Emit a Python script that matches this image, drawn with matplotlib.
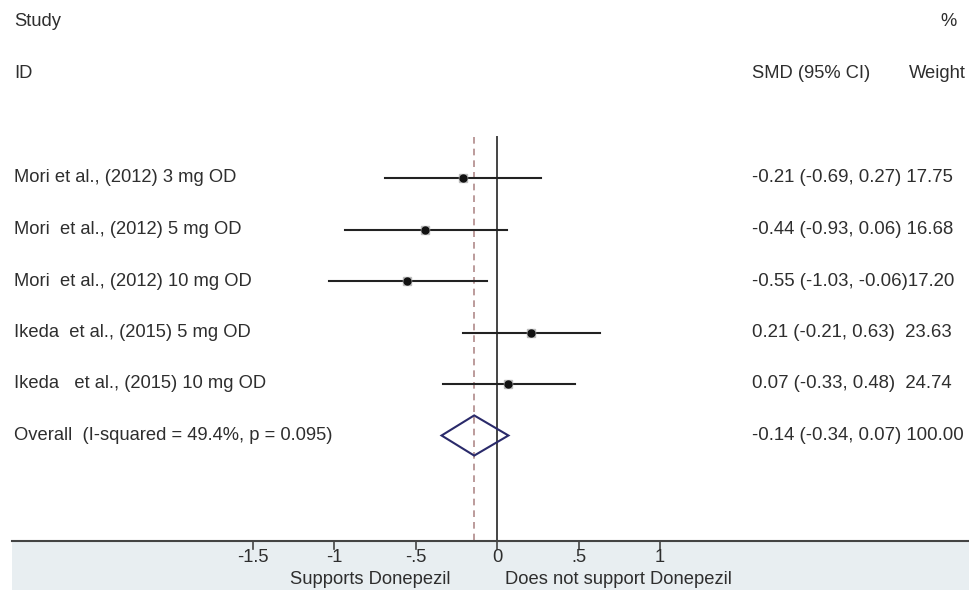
import matplotlib
matplotlib.use("Agg")
import matplotlib.pyplot as plt
from matplotlib.patches import Polygon, Rectangle

plt.rcParams['font.family'] = ['Liberation Sans', 'DejaVu Sans']

studies = ["Mori et al., (2012) 3 mg OD", "Mori  et al., (2012) 5 mg OD",
           "Mori  et al., (2012) 10 mg OD", "Ikeda  et al., (2015) 5 mg OD",
           "Ikeda   et al., (2015) 10 mg OD"]
smd = [-0.21, -0.44, -0.55, 0.21, 0.07]
lo = [-0.69, -0.93, -1.03, -0.21, -0.33]
hi = [0.27, 0.06, -0.06, 0.63, 0.48]
weights = [17.75, 16.68, 17.20, 23.63, 24.74]
ci_text = ["-0.21 (-0.69, 0.27)", "-0.44 (-0.93, 0.06)", "-0.55 (-1.03, -0.06)",
           "0.21 (-0.21, 0.63)", "0.07 (-0.33, 0.48)"]
overall_label = "Overall  (I-squared = 49.4%, p = 0.095)"
overall = -0.14
overall_lo = -0.34
overall_hi = 0.07
overall_ci_text = "-0.14 (-0.34, 0.07)"
overall_weight = 100.00
tick_vals = [-1.5, -1, -0.5, 0, 0.5, 1]
tick_labels = ["-1.5", "-1", "-.5", "0", ".5", "1"]

W, H = 969, 590
fig = plt.figure(figsize=(W / 100, H / 100), dpi=100)
ax = fig.add_axes([0, 0, 1, 1])
x0px, unit = 497, 163.0
row0, rowh = 178, 51.5
ax.set_xlim(-x0px / unit, (W - x0px) / unit)
ax.set_ylim((H - row0) / rowh, -row0 / rowh)
ax.axis('off')

def px_x(p):
    return (p - x0px) / unit

def px_y(p):
    return (p - row0) / rowh

tc = '#2e2e2e'
fs = 13.2
fs_r = 13.4
axis_row = px_y(541)
top_row = px_y(137)

# bottom panel
ax.add_patch(Rectangle((px_x(12), axis_row), px_x(969) - px_x(12), px_y(590) - axis_row,
                       facecolor='#e8eef1', edgecolor='none', zorder=0))
ax.plot([px_x(12), px_x(969)], [axis_row, axis_row], color='#444444', lw=1.5, zorder=3)
for v, lab in zip(tick_vals, tick_labels):
    ax.plot([v, v], [axis_row, px_y(549)], color='#444444', lw=1.2, zorder=3)
    ax.text(v, px_y(558), lab, ha='center', va='center', fontsize=fs, color=tc)
ax.text(px_x(370), px_y(580), "Supports Donepezil", ha='center', va='center', fontsize=fs, color=tc)
ax.text(px_x(618), px_y(580), "Does not support Donepezil", ha='center', va='center', fontsize=fs, color=tc)

# reference lines
ax.plot([0, 0], [top_row, axis_row], color='#444444', lw=1.4, zorder=2)
ax.plot([overall, overall], [top_row, axis_row], color='#b08a8a', lw=1.2,
        linestyle=(0, (4, 3)), zorder=2)

# headers
ax.text(px_x(14), px_y(22), "Study", ha='left', va='center', fontsize=fs, color=tc)
ax.text(px_x(14), px_y(73), "ID", ha='left', va='center', fontsize=fs, color=tc)
ax.text(px_x(940), px_y(22), "%", ha='left', va='center', fontsize=fs, color=tc)
ax.text(px_x(752), px_y(73), "SMD (95% CI)", ha='left', va='center', fontsize=fs, color=tc)
ax.text(px_x(966), px_y(73), "Weight", ha='right', va='center', fontsize=fs, color=tc)


def right_text(ci, w):
    return ci.ljust(20) + f"{w:.2f}"


for i, (name, m, l, h, w, ct) in enumerate(zip(studies, smd, lo, hi, weights, ci_text)):
    ax.plot([l, h], [i, i], color='#222222', lw=1.5, zorder=4)
    ax.plot([m], [i], marker='s', color='#bbbbbb', markersize=6, zorder=4)
    ax.plot([m], [i], marker='o', color='#111111', markersize=5, zorder=5)
    ax.text(px_x(14), i, name, ha='left', va='center', fontsize=fs, color=tc)
    ax.text(px_x(752), i, right_text(ct, w), ha='left', va='center', fontsize=fs_r, color=tc)

k = len(studies)
dh = 0.39
ax.add_patch(Polygon([(overall_lo, k), (overall, k - dh), (overall_hi, k), (overall, k + dh)],
                     closed=True, facecolor='none', edgecolor='#2a2a6a', lw=1.5, zorder=5))
ax.text(px_x(14), k, overall_label, ha='left', va='center', fontsize=fs, color=tc)
ax.text(px_x(752), k, right_text(overall_ci_text, overall_weight), ha='left', va='center',
        fontsize=fs_r, color=tc)

fig.savefig("out.png", dpi=100)
